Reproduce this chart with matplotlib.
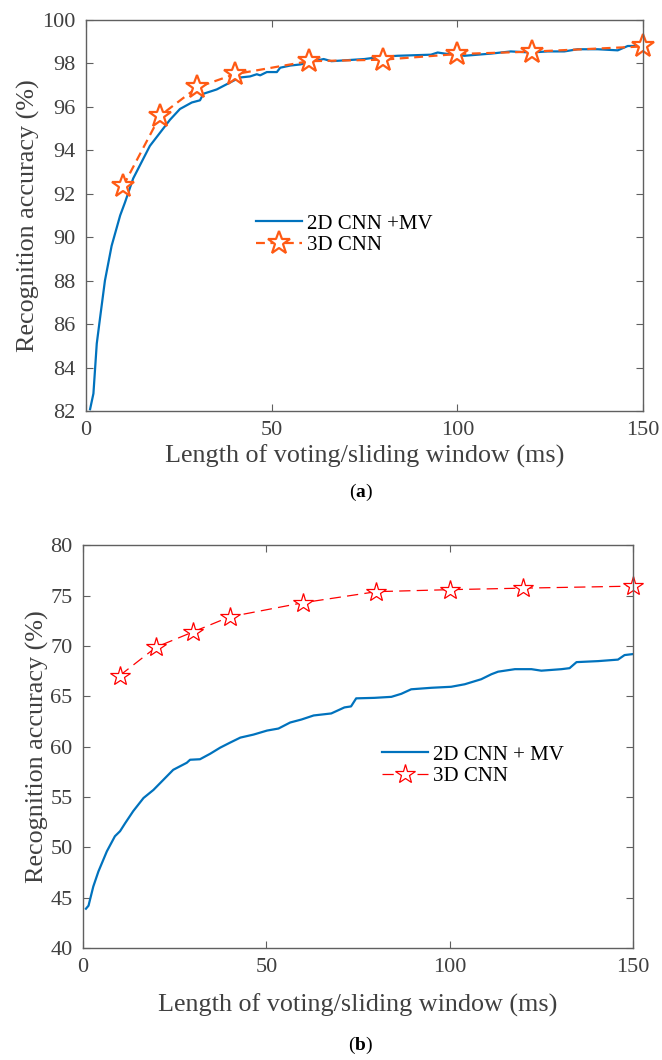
import matplotlib
matplotlib.use('Agg')
from matplotlib import pyplot as plt

plt.rcParams['font.family'] = ['Liberation Serif', 'DejaVu Serif']
plt.rcParams['mathtext.fontset'] = 'custom'
plt.rcParams['mathtext.rm'] = 'Liberation Serif'
plt.rcParams['mathtext.bf'] = 'Liberation Serif:bold'

# (a) 2D CNN + MV curve
a_mv_x = [1.1, 2.0, 2.9, 3.8, 5.1, 6.9, 9.2, 10.5, 12.7, 14.5, 17.2, 19.9, 22.6,
          25.3, 28.5, 30.7, 31.6, 35.2, 39.7, 41.5, 44.2, 46.0, 46.9, 48.7,
          51.4, 52.3, 55.0, 57.7, 61.3, 64.0, 66.1, 75.0, 79.4, 83.9, 92.9,
          94.7, 96.6, 101.9, 109.1, 114.4, 119.8, 124.3, 128.8, 132.4, 137.8,
          143.2, 145.9, 149.5]
a_mv_y = [82.08, 82.8, 85.1, 86.3, 88.0, 89.6, 91.0, 91.6, 92.7, 93.3, 94.2, 94.8,
          95.4, 95.9, 96.2, 96.3, 96.6, 96.8, 97.2, 97.35, 97.4, 97.5, 97.45,
          97.6, 97.6, 97.8, 97.9, 97.95, 98.1, 98.2, 98.1, 98.2, 98.3, 98.35,
          98.4, 98.5, 98.45, 98.35, 98.45, 98.55, 98.5, 98.55, 98.55, 98.65,
          98.65, 98.6, 98.8, 98.8]
a_3d_x = [10, 20, 30, 40, 60, 80, 100, 120, 150]
a_3d_y = [92.35, 95.6, 96.9, 97.5, 98.1, 98.17, 98.43, 98.54, 98.78]

# (b)
b_mv_x = [0.8, 1.5, 2.8, 4.2, 6.5, 8.7, 10.1, 11.5, 13.7, 16.5, 19.2, 21.9, 24.6,
          28.3, 29.2, 31.9, 34.7, 37.4, 40.1, 42.9, 46.5, 50.2, 53.3, 56.5,
          59.6, 62.9, 67.7, 71.3, 73.1, 74.5, 79.5, 84.1, 86.8, 89.5, 95.0,
          100.4, 104.1, 108.6, 111.4, 113.2, 117.8, 122.3, 125.0, 130.5, 132.7,
          134.6, 140.5, 145.9, 147.7, 150.0]
b_mv_y = [43.9, 44.2, 46.1, 47.6, 49.6, 51.1, 51.6, 52.4, 53.6, 54.9, 55.7, 56.7,
          57.7, 58.4, 58.7, 58.75, 59.3, 59.9, 60.4, 60.9, 61.2, 61.6, 61.8,
          62.4, 62.7, 63.1, 63.3, 63.9, 64.0, 64.8, 64.85, 64.95, 65.25, 65.7,
          65.85, 65.95, 66.2, 66.7, 67.2, 67.45, 67.7, 67.7, 67.55, 67.7, 67.8,
          68.4, 68.5, 68.65, 69.1, 69.2]
b_3d_x = [10, 20, 30, 40, 60, 80, 100, 120, 150]
b_3d_y = [67.06, 69.9, 71.4, 72.9, 74.3, 75.4, 75.6, 75.75, 75.95]

x_ticks = [0, 50, 100, 150]
a_y_ticks = list(range(82, 101, 2))
b_y_ticks = list(range(40, 81, 5))

blue = '#0072BD'
orange = '#FF5A14'
gray = '#404040'

fig = plt.figure(figsize=(6.62, 10.6), dpi=100)


def style(ax, xpad, ypad):
    for s in ax.spines.values():
        s.set_color('#606060')
        s.set_linewidth(1.0)
    ax.tick_params(direction='in', top=True, right=True, length=5, width=0.8,
                   color='#606060', labelcolor=gray, labelsize=16, pad=7.5)
    ax.set_xlabel('Length of voting/sliding window (ms)', fontsize=18.8,
                  color=gray, labelpad=xpad)
    ax.set_ylabel('Recognition accuracy (%)', fontsize=18.8, color=gray,
                  labelpad=ypad)


ax1 = fig.add_axes([0.1299, 0.6123, 0.8414, 0.3689])
ax1.plot(a_mv_x, a_mv_y, color=blue, lw=1.6, label='2D CNN +MV')
ax1.plot(a_3d_x, a_3d_y, '--', color=orange, lw=1.6, marker='*', ms=17,
         mfc='white', mec=orange, mew=1.6, label='3D CNN', dashes=(4, 2.5),
         clip_on=False)
ax1.set_xlim(0, 150)
ax1.set_ylim(82, 100)
ax1.set_xticks(x_ticks)
ax1.set_yticks(a_y_ticks)
style(ax1, 3, 1.5)
ax1.legend(loc='upper left', bbox_to_anchor=(0.29, 0.525), frameon=False,
           fontsize=15, handlelength=2.2, handletextpad=0.25, labelspacing=0.1,
           borderaxespad=0, numpoints=1)

ax2 = fig.add_axes([0.1254, 0.1057, 0.8308, 0.3798])
ax2.plot(b_mv_x, b_mv_y, color=blue, lw=1.6, label='2D CNN + MV')
ax2.plot(b_3d_x, b_3d_y, '--', color='red', lw=0.9, marker='*', ms=15,
         mfc='white', mec='red', mew=0.9, label='3D CNN', dashes=(9, 5),
         clip_on=False)
ax2.set_xlim(0, 150)
ax2.set_ylim(40, 80)
ax2.set_xticks(x_ticks)
ax2.set_yticks(b_y_ticks)
style(ax2, 12, 1)
ax2.legend(loc='upper left', bbox_to_anchor=(0.528, 0.525), frameon=False,
           fontsize=15, handlelength=2.2, handletextpad=0.25, labelspacing=0.1,
           borderaxespad=0, numpoints=1)

fig.text(0.545, 1 - 492 / 1060, r'($\mathbf{a}$)', ha='center', va='center',
         fontsize=14)
fig.text(0.545, 1 - 1045 / 1060, r'($\mathbf{b}$)', ha='center', va='center',
         fontsize=14)

fig.savefig('out.png', dpi=100)
